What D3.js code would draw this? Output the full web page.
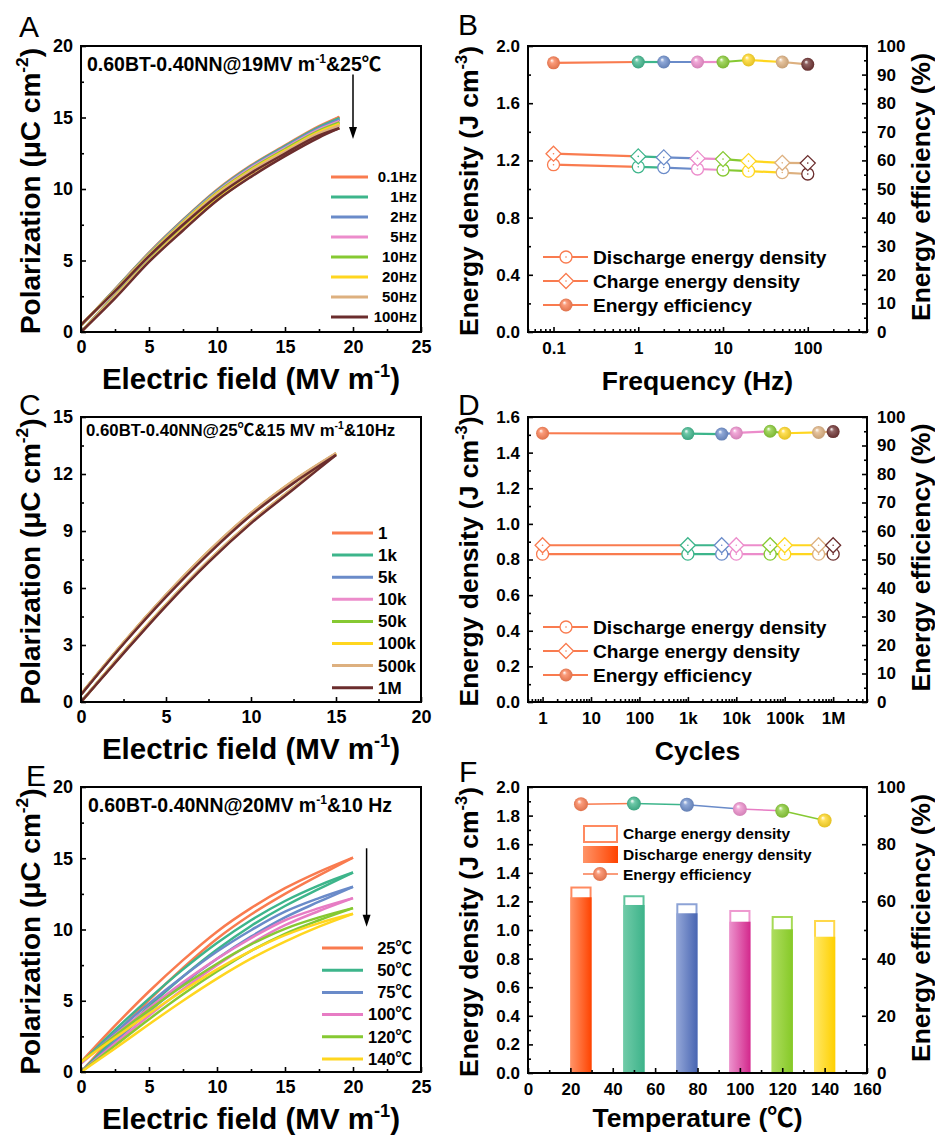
<!DOCTYPE html>
<html>
<head>
<meta charset="utf-8">
<script src="https://cdn.jsdelivr.net/npm/d3@7"></script>
<style>
body { margin: 0; background: #fff; }
text { font-family: "Liberation Sans", Arial, "Noto Sans CJK SC", sans-serif; font-weight: bold; fill: #000; }
</style>
</head>
<body>
<svg id="fig" width="935" height="1135"></svg>
<script>
// ---- panel A: P-E loops vs frequency ----
var freqNames = ["0.1Hz", "1Hz", "2Hz", "5Hz", "10Hz", "20Hz", "50Hz", "100Hz"];
var fieldA = [0, 2.5, 5, 7.5, 10, 12.5, 15, 17.5, 19];
var polA_up = [
    [0.45, 3.0, 5.55, 7.85, 9.95, 11.65, 13.05, 14.4, 15.05],
    [0.45, 2.98, 5.52, 7.82, 9.9, 11.6, 13.0, 14.33, 14.95],
    [0.45, 2.96, 5.5, 7.78, 9.85, 11.55, 12.93, 14.25, 14.85],
    [0.45, 2.95, 5.47, 7.74, 9.8, 11.48, 12.86, 14.17, 14.75],
    [0.47, 2.93, 5.44, 7.7, 9.74, 11.4, 12.78, 14.08, 14.65],
    [0.5, 2.9, 5.4, 7.65, 9.68, 11.33, 12.7, 14.0, 14.55],
    [0.5, 2.88, 5.37, 7.6, 9.62, 11.26, 12.62, 13.9, 14.45],
    [0.5, 2.85, 5.3, 7.5, 9.5, 11.12, 12.48, 13.75, 14.25]
];
var polA_dn = [
    [0, 2.6, 5.15, 7.45, 9.55, 11.3, 12.8, 14.2, 15.05],
    [0, 2.58, 5.12, 7.42, 9.5, 11.25, 12.73, 14.12, 14.95],
    [0, 2.56, 5.1, 7.38, 9.45, 11.2, 12.65, 14.03, 14.85],
    [0, 2.55, 5.07, 7.34, 9.4, 11.13, 12.58, 13.95, 14.75],
    [0, 2.52, 5.03, 7.28, 9.33, 11.05, 12.5, 13.87, 14.65],
    [0, 2.48, 4.98, 7.22, 9.26, 10.97, 12.42, 13.78, 14.55],
    [0, 2.45, 4.95, 7.17, 9.2, 10.9, 12.34, 13.7, 14.45],
    [0, 2.35, 4.9, 7.1, 9.2, 10.85, 12.3, 13.6, 14.25]
];

// ---- panel B: energy storage vs frequency ----
var freqB = [0.1, 1, 2, 5, 10, 20, 50, 100];
var dischargeB = [1.17, 1.155, 1.15, 1.14, 1.133, 1.125, 1.115, 1.105];
var chargeB = [1.247, 1.228, 1.221, 1.214, 1.209, 1.195, 1.183, 1.181];
var effB = [94.1, 94.4, 94.4, 94.4, 94.4, 95.1, 94.4, 93.6];
var freqTicks = [0.1, 1, 10, 100];

// ---- panel C: P-E loops vs cycles ----
var cycleNames = ["1", "1k", "5k", "10k", "50k", "100k", "500k", "1M"];
var fieldC = [0, 2.5, 5, 7.5, 10, 12.5, 15];
var polC_up = [
    [0.4, 3.1, 5.6, 7.88, 9.9, 11.6, 13.05],
    [0.4, 3.1, 5.61, 7.89, 9.91, 11.61, 13.06],
    [0.4, 3.11, 5.61, 7.9, 9.92, 11.62, 13.06],
    [0.41, 3.11, 5.62, 7.9, 9.93, 11.62, 13.07],
    [0.41, 3.12, 5.62, 7.91, 9.93, 11.63, 13.07],
    [0.42, 3.13, 5.63, 7.92, 9.94, 11.64, 13.08],
    [0.42, 3.14, 5.65, 7.94, 9.96, 11.66, 13.1],
    [0.38, 3.05, 5.53, 7.8, 9.83, 11.52, 13.0]
];
var polC_dn = [
    [0, 2.6, 5.1, 7.4, 9.45, 11.25, 13.05],
    [0, 2.61, 5.1, 7.41, 9.46, 11.26, 13.06],
    [0, 2.61, 5.11, 7.41, 9.46, 11.27, 13.06],
    [0, 2.62, 5.11, 7.42, 9.47, 11.27, 13.07],
    [0, 2.62, 5.12, 7.42, 9.47, 11.28, 13.07],
    [0, 2.63, 5.12, 7.43, 9.48, 11.28, 13.08],
    [0, 2.63, 5.13, 7.44, 9.49, 11.29, 13.1],
    [0, 2.56, 5.05, 7.35, 9.4, 11.2, 13.0]
];

// ---- panel D: energy storage vs cycles ----
var cyclesD = [1, 1e3, 5e3, 1e4, 5e4, 1e5, 5e5, 1e6];
var dischargeD = [0.83, 0.83, 0.83, 0.83, 0.83, 0.83, 0.83, 0.83];
var chargeD = [0.88, 0.88, 0.88, 0.88, 0.88, 0.88, 0.88, 0.88];
var effD = [94.3, 94.2, 94.0, 94.4, 95.0, 94.3, 94.6, 94.9];
var cycleTicks = [1, 10, 100, 1e3, 1e4, 1e5, 1e6];
var cycleTickNames = ["1", "10", "100", "1k", "10k", "100k", "1M"];

// ---- panel E: P-E loops vs temperature ----
var tempNames = ["25℃", "50℃", "75℃", "100℃", "120℃", "140℃"];
var fieldE = [0, 2.5, 5, 7.5, 10, 12.5, 15, 17.5, 20];
var polE_up = [
    [0.7, 3.25, 5.65, 7.85, 9.85, 11.5, 12.9, 14.05, 15.05],
    [0.6, 2.95, 5.15, 7.2, 9.05, 10.65, 12.0, 13.1, 14.0],
    [0.6, 2.75, 4.8, 6.7, 8.45, 9.95, 11.25, 12.2, 13.0],
    [0.6, 2.6, 4.5, 6.3, 7.95, 9.4, 10.65, 11.5, 12.2],
    [0.7, 2.55, 4.35, 6.05, 7.6, 8.95, 10.05, 10.85, 11.5],
    [0.7, 2.4, 4.1, 5.7, 7.2, 8.5, 9.6, 10.45, 11.1]
];
var polE_dn = [
    [0, 2.6, 5.05, 7.3, 9.35, 11.05, 12.5, 13.8, 15.05],
    [0, 2.35, 4.6, 6.7, 8.6, 10.25, 11.65, 12.85, 14.0],
    [0, 2.15, 4.25, 6.2, 7.95, 9.5, 10.85, 11.95, 13.0],
    [0, 2.0, 3.95, 5.8, 7.5, 9.0, 10.3, 11.3, 12.2],
    [0, 1.85, 3.7, 5.45, 7.05, 8.5, 9.7, 10.65, 11.5],
    [0, 1.65, 3.35, 5.0, 6.55, 7.95, 9.15, 10.2, 11.1]
];

// ---- panel F: energy storage vs temperature ----
var tempF = [25, 50, 75, 100, 120, 140];
var chargeF = [1.304, 1.243, 1.187, 1.14, 1.098, 1.07];
var dischargeF = [1.229, 1.175, 1.117, 1.058, 1.005, 0.953];
var effF = [94.0, 94.2, 93.8, 92.3, 91.7, 88.3];

// colours
var pal8 = ["#F97B4F", "#3DB58B", "#6A8BC9", "#EC8CCB", "#86C932", "#FFD61F", "#DDB07F", "#6B2D2D"];
var pal6 = ["#F97B4F", "#3DB58B", "#6A8BC9", "#E77CC4", "#86C932", "#FFD61F"];
var barLeft = ["#FF9468", "#70CBA8", "#94A7D8", "#EC93CD", "#AEDD5F", "#FFE868"];
var barRight = ["#FF4300", "#3DB38A", "#4865B2", "#D3288C", "#86C927", "#FFD000"];
var barStroke = ["#FF8A60", "#5EC49C", "#8DA3D6", "#EE99D0", "#A6DA55", "#FFD84A"];

var svg = d3.select("#fig");
var defs = svg.append("defs");
var FONT = "\"Liberation Sans\", Arial, \"Noto Sans CJK SC\", sans-serif";

pal8.forEach(function (c, i) { sphereGrad("sph" + i, c); });
pal6.forEach(function (c, i) {
    var lg = defs.append("linearGradient").attr("id", "bar" + i)
        .attr("x1", 0).attr("x2", 1).attr("y1", 0).attr("y2", 0);
    lg.append("stop").attr("offset", 0).attr("stop-color", barLeft[i]);
    lg.append("stop").attr("offset", 1).attr("stop-color", barRight[i]);
});

function sphereGrad(id, c) {
    var g = defs.append("radialGradient").attr("id", id)
        .attr("cx", 0.5).attr("cy", 0.5).attr("r", 0.55).attr("fx", 0.36).attr("fy", 0.3);
    g.append("stop").attr("offset", 0).attr("stop-color", "#ffffff");
    g.append("stop").attr("offset", 0.3).attr("stop-color", d3.interpolateRgb(c, "#fff")(0.25));
    g.append("stop").attr("offset", 1).attr("stop-color", d3.color(c).darker(0.35));
}

function tk(g, axisFn, scale, vals, len, fmt, fs, pad, tr) {
    var a = axisFn(scale).tickValues(vals).tickSizeInner(-len).tickSizeOuter(0).tickPadding(pad)
        .tickFormat(fmt || function () { return ""; });
    var s = g.append("g").attr("transform", tr).call(a);
    s.select(".domain").remove();
    s.selectAll("line").attr("stroke", "#000").attr("stroke-width", 1.6);
    s.selectAll("text").attr("font-size", fs).attr("font-family", FONT).attr("font-weight", "bold").attr("fill", "#000");
    return s;
}

function axes(p, x, y, o) {
    var g = svg.append("g");
    tk(g, d3.axisBottom, x, o.xMin, 3, null, o.fs, 8, "translate(0," + p.y1 + ")");
    tk(g, d3.axisBottom, x, o.xMaj, 5, o.xFmt, o.fs, o.xPad || 8, "translate(0," + p.y1 + ")");
    tk(g, d3.axisLeft, y, o.yMin, 3, null, o.fs, 8, "translate(" + p.x0 + ",0)");
    tk(g, d3.axisLeft, y, o.yMaj, 5, o.yFmt, o.fs, 8, "translate(" + p.x0 + ",0)");
    if (o.y2) {
        tk(g, d3.axisRight, o.y2, o.y2Min, 3, null, o.fs, 10, "translate(" + p.x1 + ",0)");
        tk(g, d3.axisRight, o.y2, o.y2Maj, 5, d3.format("d"), o.fs, 10, "translate(" + p.x1 + ",0)");
    }
    svg.append("rect").attr("x", p.x0).attr("y", p.y0)
        .attr("width", p.x1 - p.x0).attr("height", p.y1 - p.y0)
        .attr("fill", "none").attr("stroke", "#000").attr("stroke-width", 2);
}

// text with superscripts: parts = [[string, isSup], ...]
function rich(t, parts, fs) {
    var up = false;
    parts.forEach(function (p) {
        var s = t.append("tspan").text(p[0]);
        if (p[1]) {
            s.attr("font-size", fs * 0.62).attr("dy", -fs * 0.42);
            up = true;
        } else if (up) {
            s.attr("dy", fs * 0.42);
            up = false;
        }
    });
    return t;
}

function xTitle(x, y, parts, fs) {
    var t = svg.append("text").attr("x", x).attr("y", y).attr("text-anchor", "middle").attr("font-size", fs);
    rich(t, parts, fs);
}

function yTitle(x, y, parts, fs) {
    var t = svg.append("text").attr("transform", "translate(" + x + "," + y + ") rotate(-90)")
        .attr("text-anchor", "middle").attr("dy", "0.35em").attr("font-size", fs);
    rich(t, parts, fs);
}

function letter(x, y, s) {
    svg.append("text").attr("x", x).attr("y", y).attr("font-size", 30)
        .style("font-weight", "normal").text(s);
}

function range(a, b, step) {
    var out = [];
    for (var v = a; v <= b + 1e-9; v += step) out.push(+v.toFixed(4));
    return out;
}

function logMinors(lo, hi) {
    var out = [];
    for (var e = -3; e <= 7; e++) {
        for (var m = 2; m <= 9; m++) {
            var v = m * Math.pow(10, e);
            if (v >= lo && v <= hi) out.push(v);
        }
    }
    return out;
}

function loopPanel(p, xDom, yDom, field, up, dn, colors, stroke) {
    var x = d3.scaleLinear().domain(xDom).range([p.x0, p.x1]);
    var y = d3.scaleLinear().domain(yDom).range([p.y1, p.y0]);
    var line = d3.line().x(function (d, i) { return x(field[i]); }).y(function (d) { return y(d); })
        .curve(d3.curveMonotoneX);
    var g = svg.append("g");
    up.forEach(function (s, i) {
        g.append("path").attr("d", line(dn[i])).attr("fill", "none").attr("stroke", colors[i]).attr("stroke-width", stroke);
        g.append("path").attr("d", line(s)).attr("fill", "none").attr("stroke", colors[i]).attr("stroke-width", stroke);
    });
    return { x: x, y: y };
}

function peTitles(p, fsY, fsX) {
    yTitle(30, (p.y0 + p.y1) / 2 + 2, [["Polarization (μC cm"], ["-2", true], [")"]], fsY);
    xTitle((p.x0 + p.x1) / 2, p.y1 + 57, [["Electric field (MV m"], ["-1", true], [")"]], fsX);
}

function arrow(x, ya, yb) {
    svg.append("line").attr("x1", x).attr("x2", x).attr("y1", ya).attr("y2", yb - 8)
        .attr("stroke", "#000").attr("stroke-width", 1.5);
    svg.append("path").attr("d", "M" + x + "," + yb + "L" + (x - 4) + "," + (yb - 12) + "L" + (x + 4) + "," + (yb - 12) + "Z")
        .attr("fill", "#000");
}

function hollowCircle(g, cx, cy, c) {
    g.append("circle").attr("cx", cx).attr("cy", cy).attr("r", 6).attr("fill", "#fff").attr("stroke", c).attr("stroke-width", 1.3);
    g.append("circle").attr("cx", cx).attr("cy", cy).attr("r", 0.8).attr("fill", c);
}

function hollowDiamond(g, cx, cy, c) {
    var h = 7.5;
    g.append("path").attr("d", "M" + cx + "," + (cy - h) + "L" + (cx + h) + "," + cy + "L" + cx + "," + (cy + h) + "L" + (cx - h) + "," + cy + "Z")
        .attr("fill", "#fff").attr("stroke", c).attr("stroke-width", 1.3);
    g.append("circle").attr("cx", cx).attr("cy", cy).attr("r", 0.8).attr("fill", c);
}

function sphere(g, cx, cy, i, r) {
    g.append("circle").attr("cx", cx).attr("cy", cy).attr("r", r || 6.5).attr("fill", "url(#sph" + i + ")");
}

function segments(g, xs, ys, colors, w) {
    for (var i = 0; i < xs.length - 1; i++) {
        g.append("line").attr("x1", xs[i]).attr("y1", ys[i]).attr("x2", xs[i + 1]).attr("y2", ys[i + 1])
            .attr("stroke", colors[i]).attr("stroke-width", w);
    }
}

function energyPanel(p, x, vals, dis, chg, eff) {
    var y = d3.scaleLinear().domain(p.yDom).range([p.y1, p.y0]);
    var y2 = d3.scaleLinear().domain([0, 100]).range([p.y1, p.y0]);
    var g = svg.append("g");
    var xs = vals.map(function (v) { return x(v); });
    segments(g, xs, dis.map(y), pal8, 2.2);
    segments(g, xs, chg.map(y), pal8, 2.2);
    segments(g, xs, eff.map(y2), pal8, 2.2);
    xs.forEach(function (xv, i) {
        hollowCircle(g, xv, y(dis[i]), pal8[i]);
        hollowDiamond(g, xv, y(chg[i]), pal8[i]);
        sphere(g, xv, y2(eff[i]), i);
    });
    // legend
    var names = ["Discharge energy density", "Charge energy density", "Energy efficiency"];
    names.forEach(function (n, k) {
        var ly = p.legY + k * 24;
        g.append("line").attr("x1", 543).attr("x2", 588).attr("y1", ly).attr("y2", ly)
            .attr("stroke", pal8[0]).attr("stroke-width", 2);
        if (k === 0) hollowCircle(g, 566, ly, pal8[0]);
        if (k === 1) hollowDiamond(g, 566, ly, pal8[0]);
        if (k === 2) sphere(g, 566, ly, 0);
        g.append("text").attr("x", 593).attr("y", ly).attr("dy", "0.35em").attr("font-size", 19.2).text(n);
    });
    return { y: y, y2: y2 };
}

function energyTitles(p, xParts, xOff) {
    yTitle(469, (p.y0 + p.y1) / 2 + 2, [["Energy density (J cm"], ["-3", true], [")"]], 26.5);
    yTitle(921, (p.y0 + p.y1) / 2 - 2, [["Energy efficiency (%)"]], 26.5);
    xTitle((p.x0 + p.x1) / 2, p.y1 + (xOff || 58), xParts, 26.5);
}

// ===================== A =====================
var pA = { x0: 81, x1: 421, y0: 46, y1: 332 };
var sA = loopPanel(pA, [0, 25], [0, 20], fieldA, polA_up, polA_dn, pal8, 2.5);
axes(pA, sA.x, sA.y, {
    xMaj: range(0, 25, 5), xMin: range(2.5, 22.5, 5), xFmt: d3.format("d"),
    yMaj: range(0, 20, 5), yMin: range(2.5, 17.5, 5), yFmt: d3.format("d"), fs: 18
});
freqNames.forEach(function (n, i) {
    var ly = 177 + i * 20;
    svg.append("line").attr("x1", 331).attr("x2", 368).attr("y1", ly).attr("y2", ly).attr("stroke", pal8[i]).attr("stroke-width", 3);
    svg.append("text").attr("x", 417).attr("y", ly).attr("dy", "0.35em").attr("text-anchor", "end").attr("font-size", 15).text(n);
});
rich(svg.append("text").attr("x", 87).attr("y", 71).attr("font-size", 19.5),
    [["0.60BT-0.40NN@19MV m"], ["-1", true], ["&25℃"]], 19.5);
arrow(sA.x(20), sA.y(18), sA.y(13.5));
peTitles(pA, 28, 29.5);
letter(19, 37, "A");

// ===================== B =====================
var pB = { x0: 528, x1: 867, y0: 46, y1: 332, yDom: [0, 2], legY: 257 };
var xB = d3.scaleLog().domain([0.05, 500]).range([pB.x0, pB.x1]);
var sB = energyPanel(pB, xB, freqB, dischargeB, chargeB, effB);
axes(pB, xB, sB.y, {
    xMaj: freqTicks, xMin: logMinors(0.05, 500), xFmt: function (d) { return String(d); },
    yMaj: range(0, 2, 0.4), yMin: range(0.2, 1.8, 0.4), yFmt: d3.format(".1f"),
    y2: sB.y2, y2Maj: range(0, 100, 10), y2Min: range(5, 95, 10), fs: 17, xPad: 10
});
energyTitles(pB, [["Frequency (Hz)"]]);
letter(458, 35, "B");

// ===================== C =====================
var pC = { x0: 81, x1: 421, y0: 417, y1: 702 };
var sC = loopPanel(pC, [0, 20], [0, 15], fieldC, polC_up, polC_dn, pal8, 2.5);
axes(pC, sC.x, sC.y, {
    xMaj: range(0, 20, 5), xMin: range(2.5, 17.5, 5), xFmt: d3.format("d"),
    yMaj: range(0, 15, 3), yMin: range(1.5, 13.5, 3), yFmt: d3.format("d"), fs: 18
});
cycleNames.forEach(function (n, i) {
    var ly = 533 + i * 22.1;
    svg.append("line").attr("x1", 332).attr("x2", 373).attr("y1", ly).attr("y2", ly).attr("stroke", pal8[i]).attr("stroke-width", 3);
    svg.append("text").attr("x", 378).attr("y", ly).attr("dy", "0.35em").attr("font-size", 17).text(n);
});
rich(svg.append("text").attr("x", 86).attr("y", 436).attr("font-size", 16.8),
    [["0.60BT-0.40NN@25℃&15 MV m"], ["-1", true], ["&10Hz"]], 16.8);
peTitles(pC, 28, 29.5);
letter(19, 415, "C");

// ===================== D =====================
var pD = { x0: 528, x1: 867, y0: 417, y1: 702, yDom: [0, 1.6], legY: 627 };
var xD = d3.scaleLog().domain([0.5, 5e6]).range([pD.x0, pD.x1]);
var sD = energyPanel(pD, xD, cyclesD, dischargeD, chargeD, effD);
axes(pD, xD, sD.y, {
    xMaj: cycleTicks, xMin: logMinors(0.5, 5e6),
    xFmt: function (d, i) { return cycleTickNames[i]; },
    yMaj: range(0, 1.6, 0.2), yMin: range(0.1, 1.5, 0.2), yFmt: d3.format(".1f"),
    y2: sD.y2, y2Maj: range(0, 100, 10), y2Min: range(5, 95, 10), fs: 17, xPad: 10
});
energyTitles(pD, [["Cycles"]]);
letter(458, 415, "D");

// ===================== E =====================
var pE = { x0: 81, x1: 421, y0: 787, y1: 1072 };
var sE = loopPanel(pE, [0, 25], [0, 20], fieldE, polE_up, polE_dn, pal6, 2.5);
axes(pE, sE.x, sE.y, {
    xMaj: range(0, 25, 5), xMin: range(2.5, 22.5, 5), xFmt: d3.format("d"),
    yMaj: range(0, 20, 5), yMin: range(2.5, 17.5, 5), yFmt: d3.format("d"), fs: 18
});
tempNames.forEach(function (n, i) {
    var ly = 948 + i * 22.2;
    svg.append("line").attr("x1", 322).attr("x2", 363).attr("y1", ly).attr("y2", ly).attr("stroke", pal6[i]).attr("stroke-width", 3);
    svg.append("text").attr("x", 412).attr("y", ly).attr("dy", "0.35em").attr("text-anchor", "end").attr("font-size", 16.5).text(n);
});
rich(svg.append("text").attr("x", 88).attr("y", 812).attr("font-size", 19.5),
    [["0.60BT-0.40NN@20MV m"], ["-1", true], ["&10 Hz"]], 19.5);
arrow(sE.x(21), sE.y(15.7), sE.y(10.2));
peTitles(pE, 28, 29.5);
letter(26, 786, "E");

// ===================== F =====================
var pF = { x0: 528, x1: 867, y0: 787, y1: 1073 };
var xF = d3.scaleLinear().domain([0, 160]).range([pF.x0, pF.x1]);
var yF = d3.scaleLinear().domain([0, 2]).range([pF.y1, pF.y0]);
var yF2 = d3.scaleLinear().domain([0, 100]).range([pF.y1, pF.y0]);
var bw = xF(10) - xF(0);
var gF = svg.append("g");
tempF.forEach(function (t, i) {
    var bx = xF(t) - bw / 2;
    gF.append("rect").attr("x", bx + 1).attr("width", bw - 2)
        .attr("y", yF(chargeF[i]) + 1).attr("height", yF(0) - yF(chargeF[i]) - 1)
        .attr("fill", "#fff").attr("stroke", barStroke[i]).attr("stroke-width", 2);
    gF.append("rect").attr("x", bx).attr("width", bw)
        .attr("y", yF(dischargeF[i])).attr("height", yF(0) - yF(dischargeF[i]))
        .attr("fill", "url(#bar" + i + ")");
});
segments(gF, tempF.map(xF), effF.map(yF2), pal6, 1.5);
tempF.forEach(function (t, i) { sphere(gF, xF(t), yF2(effF[i]), i, 7); });
// legend F
gF.append("rect").attr("x", 584).attr("y", 826).attr("width", 33).attr("height", 16)
    .attr("fill", "#fff").attr("stroke", barStroke[0]).attr("stroke-width", 2);
gF.append("rect").attr("x", 583).attr("y", 846).attr("width", 35).attr("height", 17).attr("fill", "url(#bar0)");
gF.append("line").attr("x1", 583).attr("x2", 618).attr("y1", 874).attr("y2", 874).attr("stroke", pal6[0]).attr("stroke-width", 1.5);
sphere(gF, 600, 874, 0, 7);
["Charge energy density", "Discharge energy density", "Energy efficiency"].forEach(function (n, k) {
    gF.append("text").attr("x", 623).attr("y", 834 + k * 20.5).attr("dy", "0.35em").attr("font-size", 15.5).text(n);
});
axes(pF, xF, yF, {
    xMaj: range(0, 160, 20), xMin: range(10, 150, 20), xFmt: d3.format("d"),
    yMaj: range(0, 2, 0.2), yMin: range(0.1, 1.9, 0.2), yFmt: d3.format(".1f"),
    y2: yF2, y2Maj: range(0, 100, 20), y2Min: range(10, 90, 20), fs: 17, xPad: 10
});
energyTitles(pF, [["Temperature (℃)"]], 54);
letter(459, 782, "F");
</script>
</body>
</html>
